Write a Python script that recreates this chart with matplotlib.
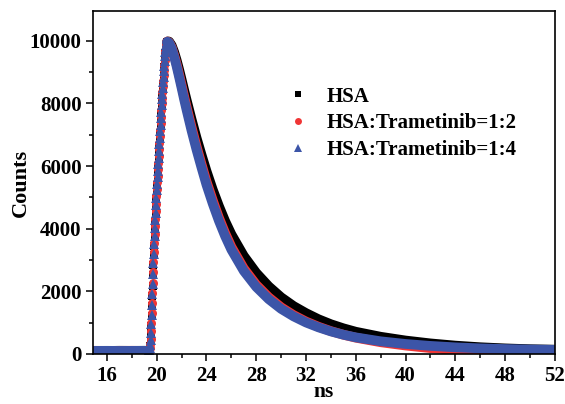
import numpy as np
import matplotlib
matplotlib.use("Agg")
import matplotlib.pyplot as plt
from matplotlib.lines import Line2D
from matplotlib.ticker import MultipleLocator

plt.rcParams['font.family'] = ['Liberation Serif', 'DejaVu Serif']
plt.rcParams['font.weight'] = 'bold'

# ---------------- data ----------------
series_names = ["HSA", "HSA:Trametinib=1:2", "HSA:Trametinib=1:4"]

time_ns = [15.0, 16.0, 17.0, 18.0, 19.0, 19.3,
           19.35, 19.38, 19.41, 19.44, 19.47, 19.50, 19.53, 19.56, 19.59, 19.62,
           19.65, 19.68, 19.71, 19.74, 19.77, 19.80, 19.83, 19.86, 19.89, 19.92,
           19.95, 19.98, 20.01, 20.04, 20.07, 20.10, 20.13, 20.16, 20.19, 20.22,
           20.25, 20.28, 20.31, 20.34, 20.37, 20.40, 20.43, 20.46, 20.49, 20.52,
           20.55, 20.58, 20.61, 20.64, 20.67, 20.70, 20.73, 20.76, 20.79, 20.82,
           20.85,
           20.9, 21.0, 21.2, 21.4, 21.6, 21.8, 22.0, 22.2, 22.4, 22.8, 23.2, 23.6,
           24.0, 24.5, 25.0, 25.5, 26.0, 27.0, 28.0, 29.0, 30.0, 31.0, 32.0, 33.0,
           34.0, 35.0, 36.0, 38.0, 40.0, 42.0, 44.0, 46.0, 48.0, 50.0, 52.0]

counts_hsa = [100, 97, 102, 99, 101, 100,
              100, 102, 112, 160, 260, 410, 630, 900, 1200, 1520,
              1850, 2180, 2510, 2840, 3150, 3450, 3720, 3980, 4220, 4460,
              4700, 4940, 5170, 5380, 5590, 5800, 6010, 6220, 6430, 6640,
              6850, 7060, 7270, 7480, 7690, 7900, 8080, 8260, 8440, 8620,
              8800, 8980, 9150, 9310, 9460, 9610, 9730, 9830, 9900, 9945,
              9965,
              9980, 9970, 9850, 9640, 9380, 9080, 8760, 8430, 8110, 7490, 6900, 6360,
              5840, 5250, 4720, 4240, 3820, 3130, 2590, 2160, 1810, 1530, 1305, 1110,
              950, 820, 710, 550, 430, 338, 267, 215, 178, 152, 137]

counts_1_2 = [101, 99, 100, 102, 98, 100,
              100, 108, 130, 200, 320, 490, 720, 1000, 1300, 1620,
              1950, 2280, 2610, 2940, 3250, 3550, 3820, 4080, 4320, 4560,
              4800, 5040, 5270, 5480, 5690, 5900, 6110, 6320, 6530, 6740,
              6950, 7160, 7370, 7580, 7790, 8000, 8180, 8360, 8540, 8720,
              8900, 9070, 9240, 9400, 9550, 9680, 9790, 9870, 9930, 9960,
              9975,
              9970, 9940, 9790, 9540, 9250, 8920, 8580, 8230, 7890, 7240, 6630, 6060,
              5510, 4910, 4350, 3860, 3420, 2730, 2210, 1810, 1490, 1240, 1035, 870,
              730, 615, 520, 375, 270, 188, 122, 100, 108, 122, 122]

counts_1_4 = [99, 101, 98, 100, 102, 100,
              100, 105, 120, 180, 290, 450, 680, 950, 1250, 1570,
              1900, 2230, 2560, 2890, 3200, 3500, 3770, 4030, 4270, 4510,
              4750, 4990, 5220, 5430, 5640, 5850, 6060, 6270, 6480, 6690,
              6900, 7110, 7320, 7530, 7740, 7950, 8130, 8310, 8490, 8670,
              8850, 9030, 9200, 9360, 9510, 9650, 9760, 9850, 9910, 9950,
              9970,
              9960, 9930, 9760, 9490, 9180, 8840, 8490, 8130, 7790, 7130, 6520, 5950,
              5400, 4800, 4250, 3760, 3330, 2650, 2140, 1750, 1440, 1200, 1005, 850,
              720, 615, 530, 405, 320, 258, 212, 180, 158, 142, 132]

x_ticks = [16, 20, 24, 28, 32, 36, 40, 44, 48, 52]
y_ticks = [0, 2000, 4000, 6000, 8000, 10000]

# ---------------- styling ----------------
colors = ["#000000", "#f03535", "#3c55a8"]
markers = ["s", "o", "^"]
msizes = [5.8, 6.5, 6.8]
LW = 7.0

fig = plt.figure(figsize=(5.65, 4.04), dpi=100)
ax = fig.add_axes([0.164, 0.1238, 0.818, 0.849])

t = np.array(time_ns)
rise = (t > 19.36) & (t < 20.80)
rise_pts = (t >= 19.35) & (t <= 20.85)

for y, c, m, ms in zip([counts_hsa, counts_1_2, counts_1_4], colors, markers, msizes):
    y = np.array(y, dtype=float)
    yl = np.where(rise, np.nan, y)
    ax.plot(t, yl, color=c, lw=LW, solid_capstyle='round', solid_joinstyle='round')
    ax.plot(t[rise_pts], y[rise_pts], ls='none', marker=m, ms=ms, color=c,
            markeredgewidth=0)

ax.set_xlim(14.85, 52)
ax.set_ylim(0, 10950)
ax.set_xticks(x_ticks)
ax.set_yticks(y_ticks)
ax.xaxis.set_minor_locator(MultipleLocator(2))
ax.yaxis.set_minor_locator(MultipleLocator(1000))
ax.tick_params(which='major', direction='out', length=5, width=1.1, labelsize=15)
ax.tick_params(axis='x', which='major', pad=3.5)
ax.tick_params(axis='y', which='major', pad=3)
ax.tick_params(which='minor', direction='out', length=3, width=1.1)
for lab in ax.get_xticklabels() + ax.get_yticklabels():
    lab.set_fontweight('bold')
for s in ax.spines.values():
    s.set_linewidth(1.2)

ax.set_xlabel("ns", fontsize=15.5, fontweight='bold', labelpad=-2.5)
ax.set_ylabel("Counts", fontsize=16, fontweight='bold', labelpad=-1)

handles = [Line2D([], [], ls='none', marker=m, color=c, ms=s, markeredgewidth=0)
           for m, c, s in zip(markers, colors, [4.3, 5.0, 5.2])]
ax.legend(handles, series_names, loc='upper left', bbox_to_anchor=(0.4237, 0.779),
          frameon=False, borderpad=0, borderaxespad=0, handlelength=0.9,
          handletextpad=0.95, labelspacing=0.32,
          prop={'family': 'Liberation Serif', 'weight': 'bold', 'size': 15})

fig.savefig("out.png", dpi=100)
